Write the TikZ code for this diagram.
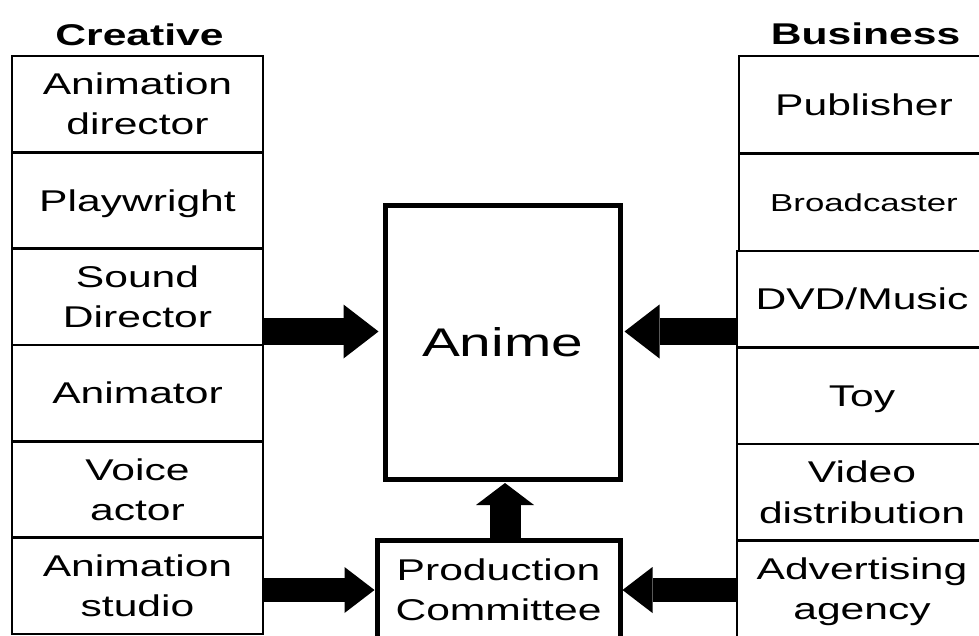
\documentclass[tikz,border=0pt]{standalone}
\usepackage{fontspec}
\setmainfont[FakeStretch=1.42]{Liberation Sans}
\usetikzlibrary{arrows.meta}
% strut placed at the start of every text line: keeps each line box
% symmetric about the middle of the capitals
\newcommand\rl{\rule[-0.292em]{0pt}{1.3em}}

\begin{document}
\begin{tikzpicture}[x=1pt,y=-1pt,
  cell/.style={draw, line width=2.8pt, inner sep=0pt, outer sep=0pt,
    align=center, font=\fontsize{30pt}{39pt}\selectfont},
  leftcell/.style={cell, minimum width=251pt, minimum height=96.33pt},
  rightcell/.style={cell, minimum width=250pt, minimum height=96.5pt},
  toprightcell/.style={cell, minimum width=250pt, minimum height=97.5pt},
  header/.style={anchor=base, font=\bfseries\fontsize{30pt}{39pt}\selectfont},
  mainbox/.style={draw, line width=5pt, inner sep=0pt, align=center},
  bigarrow/.style={line width=27pt,
    -{Triangle[width=54pt,length=35pt,line width=0pt]}},
  midarrow/.style={line width=24pt,
    -{Triangle[width=46pt,length=30pt,line width=0pt]}},
  uparrow/.style={line width=31pt,
    -{Triangle[width=58pt,length=22pt,line width=0pt]}},
]
\useasboundingbox (0,0) rectangle (979,635);
\begin{scope}
\clip (0,0) rectangle (979,635);

% column headings
\node[header] (creative) at (139.5,45) {Creative};
\node[header] (business) at (865.5,44) {Business};

% creative side
\node[leftcell] (c1) at (137.5,104.17) {\rl Animation\\\rl director};
\node[leftcell] (c2) at (137.5,200.5) {\rl Playwright};
\node[leftcell] (c3) at (137.5,296.83) {\rl Sound\\\rl Director};
\node[leftcell] (c4) at (137.5,393.17) {\rl Animator};
\node[leftcell] (c5) at (137.5,489.5) {\rl Voice\\\rl actor};
\node[leftcell] (c6) at (137.5,585.83) {\rl Animation\\\rl studio};

% business side
\node[toprightcell] (b1) at (864,104.75) {\rl Publisher};
\node[toprightcell, font=\fontsize{24.5pt}{32pt}\selectfont] (b2) at (864,202.25) {\rl Broadcaster};
\node[rightcell] (b3) at (862,299.25) {\rl DVD/Music};
\node[rightcell] (b4) at (862,395.75) {\rl Toy};
\node[rightcell] (b5) at (862,492.25) {\rl Video\\\rl distribution};
\node[rightcell] (b6) at (862,588.75) {\rl Advertising\\\rl agency};

% centre boxes
\node[mainbox, minimum width=235pt, minimum height=274pt,
  font=\fontsize{40pt}{52pt}\selectfont] (anime) at (502.5,342) {\rl Anime};
\node[mainbox, minimum width=243pt, minimum height=100pt,
  font=\fontsize{30pt}{38pt}\selectfont] (committee) at (498.5,590)
  {\rl Production\\\rl Committee};

% arrow guide positions
\coordinate (ytop) at (0,331.5);
\coordinate (xup) at (505,0);

% block arrows
\draw[bigarrow, shorten >=4pt] (c3.east |- ytop) -- (anime.west |- ytop);
\draw[bigarrow, shorten >=2pt] (b3.west |- ytop) -- (anime.east |- ytop);
\draw[midarrow] (c6.east |- committee.west) -- (committee.west);
\draw[midarrow] (b6.west |- committee.east) -- (committee.east);
\draw[uparrow, shorten >=1.5pt] (committee.north -| xup) -- (anime.south -| xup);
\end{scope}
\end{tikzpicture}
\end{document}
